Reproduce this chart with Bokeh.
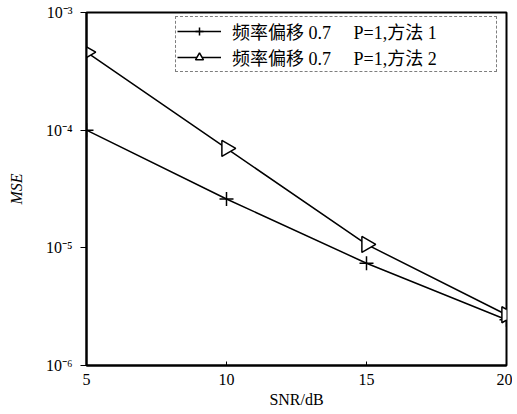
import numpy as np
from bokeh.plotting import figure
from bokeh.models import Range1d, FixedTicker, CustomJSTickFormatter, Legend, LegendItem
from bokeh.embed import file_html
from bokeh.resources import INLINE

snr = [5, 10, 15, 20]
mse_method1 = [1.0e-4, 2.6e-5, 7.4e-6, 2.45e-6]
mse_method2 = [4.6e-4, 7.0e-5, 1.07e-5, 2.7e-6]
label1 = "频率偏移 0.7\u2003 P=1,方法 1"
label2 = "频率偏移 0.7\u2003 P=1,方法 2"
x_ticks = [5, 10, 15, 20]
y_ticks = [1e-6, 1e-5, 1e-4, 1e-3]

FONT = "'Liberation Serif', 'Noto Sans CJK SC', serif"

p = figure(width=512, height=410, y_axis_type="log",
           x_range=Range1d(5, 20), y_range=Range1d(1e-6, 1e-3),
           output_backend="svg", toolbar_location=None,
           min_border_left=86, min_border_right=6, min_border_top=12, min_border_bottom=44)

p.background_fill_color = "white"
p.border_fill_color = "white"
p.outline_line_color = "black"
p.outline_line_width = 2
p.xgrid.visible = False
p.ygrid.visible = False

l1 = p.line(snr, mse_method1, line_color="black", line_width=1.5)
m1 = p.scatter(snr, mse_method1, marker="cross", size=14, line_color="black", line_width=1.5)
l2 = p.line(snr, mse_method2, line_color="black", line_width=1.5)
m2 = p.scatter(snr, mse_method2, marker="triangle", angle=-np.pi / 2, size=16,
               line_color="black", fill_color="white", line_width=1.5)

legend = Legend(items=[LegendItem(label=label1, renderers=[l1, m1]),
                       LegendItem(label=label2, renderers=[l2, m2])],
                location=(89, 293))
legend.border_line_color = "black"
legend.border_line_dash = "6 2 2 2"
legend.border_line_width = 1
legend.background_fill_color = "white"
legend.background_fill_alpha = 1
legend.label_text_font = FONT
legend.label_text_font_size = "18px"
legend.label_text_color = "black"
legend.glyph_width = 44
legend.label_standoff = 11
legend.label_width = 263
legend.padding = 1
legend.spacing = 0
legend.margin = 0
p.add_layout(legend)

for ax in (p.xaxis[0], p.yaxis[0]):
    ax.axis_line_color = "black"
    ax.axis_line_width = 2
    ax.major_tick_line_color = "black"
    ax.minor_tick_line_color = None
    ax.major_label_text_font = FONT
    ax.major_label_text_font_size = "16px"
    ax.major_label_text_color = "black"
    ax.axis_label_text_font = FONT
    ax.axis_label_text_font_size = "16px"
    ax.axis_label_text_color = "black"

p.xaxis.major_tick_in = 4
p.xaxis.major_tick_out = 0
p.yaxis.major_tick_in = 0
p.yaxis.major_tick_out = 6

p.xaxis.ticker = FixedTicker(ticks=x_ticks)
p.yaxis.ticker = FixedTicker(ticks=y_ticks)
p.yaxis.formatter = CustomJSTickFormatter(code="""
const sup = {'-':'\u207b','0':'\u2070','1':'\u00b9','2':'\u00b2','3':'\u00b3','4':'\u2074','5':'\u2075','6':'\u2076','7':'\u2077','8':'\u2078','9':'\u2079'};
const e = String(Math.round(Math.log10(tick)));
return '10' + e.split('').map(c => sup[c]).join('');
""")
p.xaxis.major_label_standoff = 8
p.yaxis.major_label_standoff = 8
p.xaxis.axis_label = "SNR/dB"
p.yaxis.axis_label = "MSE"
p.yaxis.axis_label_text_font_style = "italic"
p.xaxis.axis_label_text_font_style = "normal"
p.xaxis.axis_label_standoff = 3
p.yaxis.axis_label_standoff = 18

open("out.html", "w").write(file_html(p, INLINE))
